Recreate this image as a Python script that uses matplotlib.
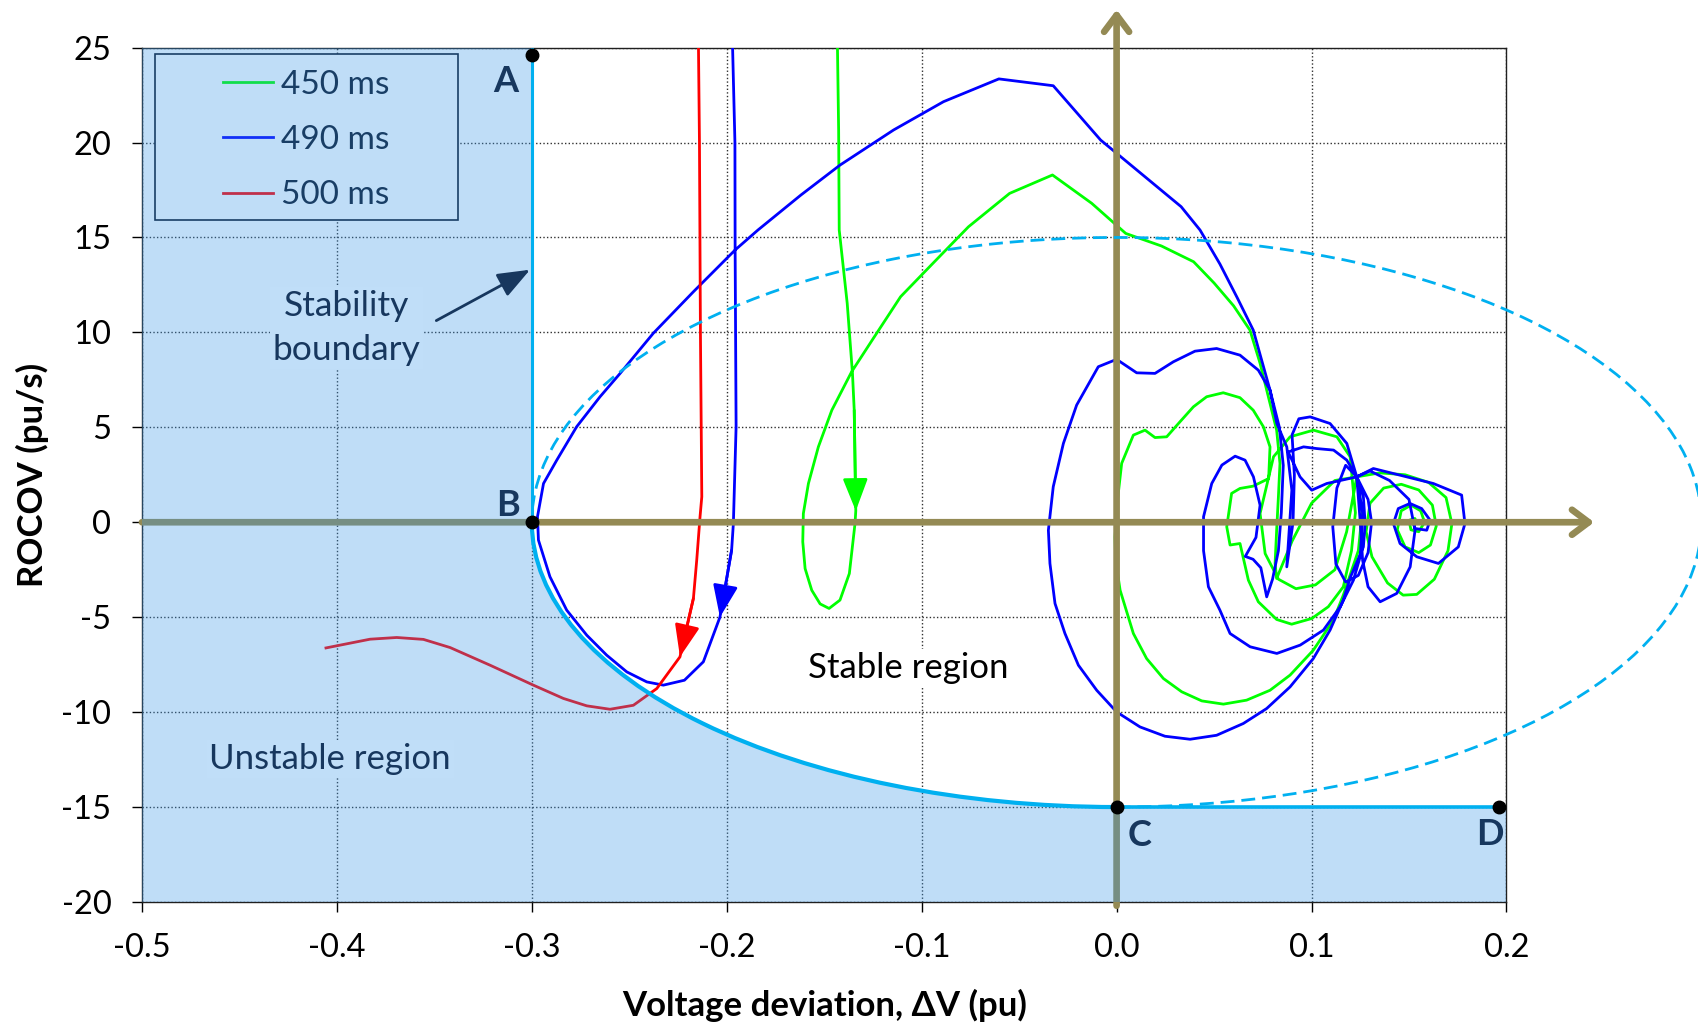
import matplotlib
matplotlib.use('Agg')
import matplotlib.pyplot as plt
from matplotlib.path import Path
from matplotlib.patches import PathPatch, Arc, Rectangle
from matplotlib.transforms import Affine2D
from matplotlib.lines import Line2D

plt.rcParams['font.family'] = ['Lato', 'DejaVu Sans']

# ── DATA ────────────────────────────────────────────────
x_ticks = [-0.5, -0.4, -0.3, -0.2, -0.1, 0.0, 0.1, 0.2]
x_tick_labels = ['-0.5', '-0.4', '-0.3', '-0.2', '-0.1', '0.0', '0.1', '0.2']
y_ticks = [25, 20, 15, 10, 5, 0, -5, -10, -15, -20]
y_tick_labels = ['25', '20', '15', '10', '5', '0', '-5', '-10', '-15', '-20']

# trayectoria 500 ms (inestable)
red_x = [-0.2145, -0.2140, -0.2135, -0.2128, -0.2137, -0.2154, -0.2171, -0.2240,
         -0.2359, -0.2479, -0.2599, -0.2718, -0.2838, -0.2992, -0.3214, -0.3419,
         -0.3556, -0.3693, -0.3830, -0.4056]
red_y = [25.0, 20.0, 10.0, 1.34, 0.29, -2.0, -4.01, -7.09,
         -8.76, -9.64, -9.85, -9.67, -9.28, -8.58, -7.53, -6.60,
         -6.17, -6.07, -6.16, -6.62]

# trayectoria 490 ms
blue_x = [-0.1970, -0.1958, -0.1957, -0.1952, -0.1966, -0.1975, -0.2035, -0.2120,
          -0.2217, -0.2325, -0.2410, -0.2513, -0.2616, -0.2718, -0.2821, -0.2907,
          -0.2966, -0.2971, -0.2940, -0.2872, -0.2770, -0.2650, -0.2547, -0.2377,
          -0.2171, -0.1957, -0.1840, -0.1620, -0.1419, -0.1144, -0.0888, -0.0604,
          -0.0325, -0.0082, 0.0331, 0.0428, 0.0530, 0.0620, 0.0701, 0.0787,
          0.0822, 0.0873, 0.0899, 0.0885, 0.0873,
          0.0905, 0.0912, 0.0900, 0.0935, 0.0993, 0.1095, 0.1181, 0.1232,
          0.1266, 0.1275, 0.1266, 0.1200, 0.1163, 0.1095, 0.1009, 0.0890,
          0.0770, 0.0650, 0.0513, 0.0377, 0.0248, 0.0120, 0.0000, -0.0102,
          -0.0196, -0.0265, -0.0316, -0.0342, -0.0350, -0.0325, -0.0273, -0.0205,
          -0.0094, 0.0000, 0.0103, 0.0197, 0.0291, 0.0402, 0.0513, 0.0633,
          0.0727, 0.0787, 0.0835, 0.0855, 0.0845, 0.0830, 0.0800, 0.0770,
          0.0740, 0.0700, 0.0660, 0.0715, 0.0736, 0.0702, 0.0659, 0.0608,
          0.0540, 0.0488, 0.0446, 0.0446, 0.0471, 0.0530, 0.0582, 0.0685,
          0.0822, 0.0942, 0.1061, 0.1147, 0.1215, 0.1250, 0.1262, 0.1232,
          0.1078, 0.1001, 0.0941, 0.0880, 0.0959, 0.1027, 0.1113, 0.1181, 0.1232,
          0.1290, 0.1308, 0.1290, 0.1240, 0.1175, 0.1125, 0.1109, 0.1130, 0.1175, 0.1232,
          0.1250, 0.1262, 0.1290, 0.1352, 0.1437, 0.1506, 0.1531, 0.1500, 0.1400, 0.1300, 0.1232,
          0.1317, 0.1488, 0.1625, 0.1770, 0.1787, 0.1753, 0.1651, 0.1540, 0.1454,
          0.1420, 0.1445, 0.1505, 0.1565, 0.1608, 0.1591, 0.1531, 0.1522]
blue_y = [25.0, 20.0, 14.34, 5.03, -0.07, -1.47, -5.0, -7.35,
          -8.32, -8.58, -8.41, -7.88, -7.0, -5.95, -4.63, -2.87,
          -0.94, 0.29, 2.04, 3.27, 5.03, 6.61, 7.84, 9.95,
          12.14, 14.34, 15.39, 17.23, 18.81, 20.66, 22.15, 23.35,
          22.99, 20.13, 16.62, 15.39, 13.6, 11.8, 10.12, 6.96,
          5.2, 3.97, 1.69, -0.5, -2.35,
          0.0, 2.5, 4.6, 5.45, 5.55, 5.2, 4.15, 2.39,
          1.34, -0.07, -1.3, -2.88, -4.1, -5.68, -7.18, -8.67,
          -9.81, -10.6, -11.22, -11.43, -11.27, -10.78, -9.99, -8.85,
          -7.53, -5.86, -4.28, -2.17, -0.42, 1.87, 4.15, 6.17,
          8.19, 8.58, 7.87, 7.84, 8.45, 9.01, 9.15, 8.80,
          8.01, 6.96, 5.0, 3.0, 0.5, -1.5, -3.0, -3.93,
          -2.4, -1.95, -1.8, -0.8, 0.9, 2.39, 3.27, 3.48,
          3.01, 2.04, 0.29, -1.5, -3.4, -4.63, -5.86, -6.56,
          -6.91, -6.47, -5.68, -4.45, -3.05, -1.8, 0.5, 2.39,
          2.04, 1.69, 2.39, 3.7, 3.97, 3.88, 3.8, 3.27, 2.39,
          1.2, 0.0, -1.6, -2.8, -3.15, -2.2, -0.24, 1.8, 3.0, 2.39,
          0.0, -2.0, -3.4, -4.19, -3.75, -2.35, -0.42, 1.2, 2.2, 2.7, 2.39,
          2.83, 2.39, 2.04, 1.43, -0.07, -1.3, -2.17, -1.82, -1.12,
          -0.07, 0.72, 0.99, 0.72, 0.11, -0.42, -0.33, 0.0]

# trayectoria 450 ms
green_x = [-0.1432, -0.1426, -0.1423, -0.1382, -0.1355, -0.1346, -0.1338, -0.1342,
           -0.1371, -0.1419, -0.1475, -0.1521, -0.1564, -0.1598, -0.1610, -0.1607,
           -0.1581, -0.1530, -0.1461, -0.1359, -0.1254, -0.1108, -0.0943, -0.0760,
           -0.0549, -0.0329, -0.0128, 0.0047, 0.0230, 0.0395, 0.0500, 0.0600,
           0.0684, 0.0736, 0.0787, 0.0821, 0.0838, 0.0830, 0.0821, 0.0813, 0.0821,
           0.0900, 0.1000, 0.1120, 0.1232,
           0.1260, 0.1240, 0.1163, 0.1112, 0.1009, 0.0890, 0.0787, 0.0667,
           0.0548, 0.0437, 0.0334, 0.0240, 0.0154, 0.0086, 0.0018, -0.0005,
           -0.0008, 0.0005, 0.0026, 0.0086, 0.0146, 0.0197, 0.0257, 0.0325,
           0.0394, 0.0462, 0.0547, 0.0633, 0.0701, 0.0753, 0.0787, 0.0780,
           0.0700, 0.0633, 0.0590, 0.0565, 0.0582, 0.0633, 0.0676, 0.0727,
           0.0821, 0.0898, 0.1001, 0.1086, 0.1163, 0.1205, 0.1225, 0.1198,
           0.1130, 0.1010, 0.0890, 0.0805, 0.0736, 0.0762, 0.0830, 0.0920,
           0.1020, 0.1120, 0.1180, 0.1232,
           0.1350, 0.1480, 0.1600, 0.1690, 0.1720, 0.1700, 0.1630, 0.1540,
           0.1470, 0.1390, 0.1310, 0.1280, 0.1300, 0.1370, 0.1460, 0.1550,
           0.1620, 0.1640, 0.1610, 0.1550, 0.1480, 0.1440, 0.1460, 0.1510,
           0.1560, 0.1580, 0.1550, 0.1510, 0.1500, 0.1530, 0.1540]
green_y = [25.0, 20.66, 15.39, 11.53, 7.84, 5.9, 0.6, -0.07,
           -2.7, -4.1, -4.54, -4.3, -3.58, -2.44, -1.03, 0.46,
           2.04, 3.97, 5.9, 7.93, 9.59, 11.88, 13.63, 15.56,
           17.32, 18.29, 16.8, 15.21, 14.55, 13.72, 12.6, 11.4,
           10.12, 8.37, 6.26, 4.85, 3.1, 1.34, -0.42, -2.17, -2.96,
           -1.0, 1.0, 2.2, 2.39,
           0.5, -1.5, -3.84, -5.16, -6.74, -8.05, -8.85, -9.37,
           -9.58, -9.41, -8.93, -8.23, -7.18, -5.86, -3.58, -2.0,
           -0.77, 1.2, 3.1, 4.59, 4.85, 4.46, 4.5, 5.29,
           6.08, 6.61, 6.82, 6.56, 5.9, 5.03, 3.97, 2.3,
           1.9, 1.78, 1.52, -0.24, -1.2, -1.12, -3.05, -4.19,
           -5.12, -5.37, -5.07, -4.45, -3.4, -1.5, 0.5, 3.45,
           4.5, 4.85, 4.5, 3.45, 0.46, -1.65, -3.0, -3.5,
           -3.3, -2.5, -0.5, 2.39,
           2.6, 2.5, 2.1, 1.3, -0.07, -1.5, -3.0, -3.8,
           -3.84, -3.2, -1.82, -0.5, 1.0, 1.8, 2.0, 1.7,
           0.9, -0.2, -1.2, -1.6, -1.3, -0.4, 0.6, 0.9,
           0.6, 0.0, -0.5, -0.4, 0.1, 0.2, 0.0]

# índice del punto donde va la punta de flecha de cada curva
red_arrow, blue_arrow, green_arrow = 7, 6, 6

# frontera de estabilidad: recta vertical, elipse y recta horizontal
dv_limit = -0.3            # ΔV límite (A-B)
ellipse_a = 0.3            # semieje en ΔV
ellipse_b = 15.0           # semieje en ROCOV
rocov_limit = -15.0        # ROCOV límite (C-D)
pts_x = [-0.3, -0.3, 0.0, 0.196]
pts_y = [24.6, 0.0, -15.0, -15.0]
pts_names = ['A', 'B', 'C', 'D']

# ── COLORES ─────────────────────────────────────────────
NAVY = '#17375E'
NAVY_DARK = '#0A1428'     # texto que queda bajo el sombreado
BROWN = '#948A54'
CYAN = '#00B0F0'
SHADE = '#3997E9'
SHADE_MIX = '#C0DEF8'

# ── FIGURA ──────────────────────────────────────────────
fig = plt.figure(figsize=(16.98, 10.23), dpi=100)
ax = fig.add_axes([0.0836, 0.1183, 0.8036, 0.8352])
ax.set_xlim(-0.5, 0.2)
ax.set_ylim(-20, 25)
ax.set_xticks(x_ticks)
ax.set_xticklabels(x_tick_labels)
ax.set_yticks(y_ticks)
ax.set_yticklabels(y_tick_labels)
ax.tick_params(direction='out', length=7, width=1, pad=15, labelsize=23.5,
               colors='#000000')
ax.set_axisbelow(True)
ax.grid(True, color='#303030', linestyle=(0, (1, 1.6)), linewidth=1.0)
for s in ax.spines.values():
    s.set_color('#202020')
    s.set_linewidth(1.0)

# ejes marrones con flecha (salen del área de la gráfica)
ax.annotate('', xy=(0.245, 0), xytext=(-0.5, 0), annotation_clip=False,
            arrowprops=dict(arrowstyle='->,head_length=0.6,head_width=0.45',
                            color=BROWN, lw=4.8, shrinkA=0, shrinkB=0,
                            mutation_scale=20), zorder=3.5)
ax.annotate('', xy=(0, 27.0), xytext=(0, -20.2), annotation_clip=False,
            arrowprops=dict(arrowstyle='->,head_length=0.6,head_width=0.45',
                            color=BROWN, lw=4.8, shrinkA=0, shrinkB=0,
                            mutation_scale=20), zorder=3.5)

# trayectorias
ax.plot(green_x, green_y, color='#00FF00', lw=2.0, zorder=3, label='450 ms')
ax.plot(blue_x, blue_y, color='#0000FF', lw=2.0, zorder=3, label='490 ms')
ax.plot(red_x, red_y, color='#FF0000', lw=2.0, zorder=3, label='500 ms')

for cx, cy, i, c in [(red_x, red_y, red_arrow, '#FF0000'),
                     (blue_x, blue_y, blue_arrow, '#0000FF'),
                     (green_x, green_y, green_arrow, '#00FF00')]:
    ax.annotate('', xy=(cx[i], cy[i]), xytext=(cx[i - 1], cy[i - 1]),
                arrowprops=dict(arrowstyle='-|>,head_length=0.9,head_width=0.35',
                                color=c, lw=2.0, shrinkA=0, shrinkB=0,
                                mutation_scale=22), zorder=3)

# leyenda: marco blanco + leyenda sin marco centrada dentro
ax.add_patch(Rectangle((0.0095, 0.798), 0.222, 0.1945, transform=ax.transAxes,
                       facecolor='white', edgecolor=NAVY_DARK, lw=1.2, zorder=3.6))
handles = [Line2D([], [], color='#00FF00', lw=2.0),
           Line2D([], [], color='#0000FF', lw=2.0),
           Line2D([], [], color='#FF0000', lw=2.0)]
leg = ax.legend(handles, ['450 ms', '490 ms', '500 ms'], loc='center',
                bbox_to_anchor=(0.1205, 0.892), frameon=False, fontsize=24,
                handlelength=1.5, handletextpad=0.25, labelspacing=0.76,
                labelcolor=NAVY_DARK)
leg.set_zorder(3.7)

# región sombreada (inestable), semitransparente por encima de todo
arc = Path.arc(180, 270)
arc_v = Affine2D().scale(ellipse_a, ellipse_b).transform(arc.vertices)
verts = [(-0.5, 25), (dv_limit, 25), (dv_limit, 0)] + [tuple(v) for v in arc_v[1:]] + \
        [(0.2, rocov_limit), (0.2, -20), (-0.5, -20), (-0.5, 25)]
codes = [Path.MOVETO, Path.LINETO, Path.LINETO] + list(arc.codes[1:]) + \
        [Path.LINETO, Path.LINETO, Path.LINETO, Path.CLOSEPOLY]
ax.add_patch(PathPatch(Path(verts, codes), facecolor=SHADE, alpha=0.32,
                       edgecolor='none', zorder=4))

# frontera de estabilidad
ax.plot([dv_limit, dv_limit], [25, 0], color=CYAN, lw=2.2, zorder=5)
ax.add_patch(Arc((0, 0), 2 * ellipse_a, 2 * ellipse_b, theta1=180, theta2=270,
                 color=CYAN, lw=3.0, zorder=5))
ax.plot([0, 0.2], [rocov_limit, rocov_limit], color=CYAN, lw=2.6, zorder=5)
ax.add_patch(Arc((0, 0), 2 * ellipse_a, 2 * ellipse_b, theta1=-90, theta2=180,
                 color=CYAN, lw=2.0, ls=(0, (5, 2.5)), zorder=5, clip_on=False))

# puntos A, B, C, D
ax.plot(pts_x, pts_y, 'o', color='black', ms=9, zorder=6, clip_on=False)
label_pos = {'A': (-0.3134, 23.2), 'B': (-0.3122, 0.9),
             'C': (0.0117, -16.5), 'D': (0.1916, -16.45)}
for n in pts_names:
    ax.text(*label_pos[n], n, fontsize=26, fontweight='bold', color=NAVY,
            ha='center', va='center', zorder=6)

# textos
ax.text(-0.395, 10.23, 'Stability\nboundary', fontsize=25.5, color=NAVY,
        ha='center', va='center', linespacing=1.45, zorder=5,
        bbox=dict(facecolor=SHADE_MIX, edgecolor='none', pad=2))
ax.annotate('', xy=(-0.3009, 13.3), xytext=(-0.349, 10.62),
            arrowprops=dict(arrowstyle='-|>,head_length=0.9,head_width=0.35',
                            color=NAVY, lw=2.0, shrinkA=0, shrinkB=0,
                            mutation_scale=22), zorder=5)
ax.text(-0.4034, -12.48, 'Unstable region', fontsize=25, color=NAVY,
        ha='center', va='center', zorder=5,
        bbox=dict(facecolor=SHADE_MIX, edgecolor='none', pad=2))
ax.text(-0.1067, -7.69, 'Stable region', fontsize=25, color='black',
        ha='center', va='center', zorder=3.8,
        bbox=dict(facecolor='white', edgecolor='none', pad=2))

# etiquetas de los ejes
ax.set_xlabel('Voltage deviation, \u0394V (pu)', fontsize=25, fontweight='bold',
              va='center')
ax.xaxis.set_label_coords(0.5, -0.1206)
ax.set_ylabel('ROCOV (pu/s)', fontsize=25, fontweight='bold', va='center')
ax.yaxis.set_label_coords(-0.0806, 0.5)

fig.savefig('out.png', dpi=100)
